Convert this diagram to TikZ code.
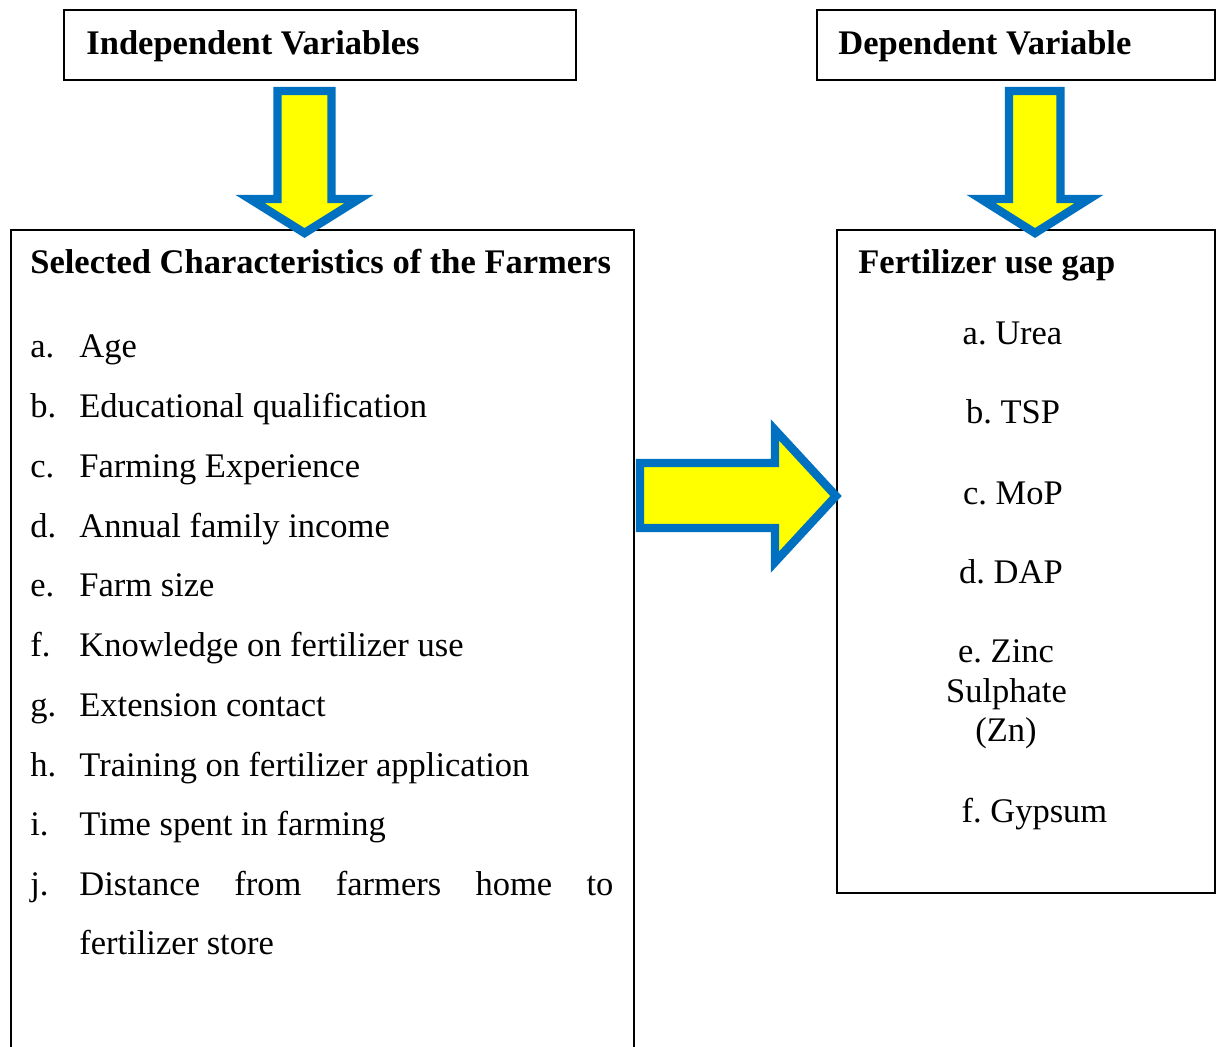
\documentclass[tikz,border=0pt]{standalone}
\usepackage{fontspec}
\setmainfont{Liberation Serif}
\definecolor{arrblue}{HTML}{0070C0}
\definecolor{arryellow}{HTML}{FFFF00}
\begin{document}
\frenchspacing
\begin{tikzpicture}[x=0.5pt,y=-0.5pt,
  every node/.style={font=\fontsize{17.25}{20}\selectfont},
  boxnode/.style={draw=black,line width=1pt,inner sep=0pt},
  txt/.style={inner sep=0pt,anchor=base west},
  ctxt/.style={inner sep=0pt,anchor=base},
  blockarrow/.style={draw=arrblue,fill=arryellow,line width=4.2pt,miter limit=10}]
\useasboundingbox (0,0) rectangle (1217,1047);
\clip (0,0) rectangle (1217,1047);
\fill[white] (0,0) rectangle (1217,1047);
% boxes
\node[boxnode,minimum width=256pt,minimum height=35pt] (indep) at (320,45) {};
\node[boxnode,minimum width=199pt,minimum height=35pt] (dep) at (1016,45) {};
\node[boxnode,minimum width=311.5pt,minimum height=415pt] (chars) at (322.5,645) {};
\node[boxnode,minimum width=189pt,minimum height=331.5pt] (gap) at (1026,561.5) {};
% headings
\node[txt,font=\fontsize{17.25}{20}\selectfont\bfseries] (tindep) at (86,55) {Independent Variables};
\node[txt,font=\fontsize{17.25}{20}\selectfont\bfseries] (tdep) at (838,55) {Dependent Variable};
\node[txt,font=\fontsize{17.25}{20}\selectfont\bfseries] (tchars) at (30,274) {Selected Characteristics of the Farmers};
\node[txt,font=\fontsize{17.25}{20}\selectfont\bfseries] (tgap) at (858,274) {Fertilizer use gap};
% arrows
\draw[blockarrow] (277.5,91) -- (331.5,91) -- (331.5,199) -- (359,199) -- (304.5,233) -- (250,199) -- (277.5,199) -- cycle;
\draw[blockarrow] (1009,91) -- (1060.5,91) -- (1060.5,199) -- (1089,199) -- (1035,233) -- (981,199) -- (1009,199) -- cycle;
\draw[blockarrow] (640,463) -- (775,463) -- (775,430) -- (836,496) -- (775,562) -- (775,528) -- (640,528) -- cycle;
% left list
\node[txt] (la) at (30,358) {a.};
\node[txt] (ia) at (79,358) {Age};
\node[txt] (lb) at (30,418) {b.};
\node[txt] (ib) at (79,418) {Educational qualification};
\node[txt] (lc) at (30,478) {c.};
\node[txt] (ic) at (79,478) {Farming Experience};
\node[txt] (ld) at (30,538) {d.};
\node[txt] (id) at (79,538) {Annual family income};
\node[txt] (le) at (30,597) {e.};
\node[txt] (ie) at (79,597) {Farm size};
\node[txt] (lf) at (30,657) {f.};
\node[txt] (if) at (79,657) {Knowledge on fertilizer use};
\node[txt] (lg) at (30,717) {g.};
\node[txt] (ig) at (79,717) {Extension contact};
\node[txt] (lh) at (30,777) {h.};
\node[txt] (ih) at (79,777) {Training on fertilizer application};
\node[txt] (li) at (30,836) {i.};
\node[txt] (ii) at (79,836) {Time spent in farming};
\node[txt] (lj) at (30,896) {j.};
\node[txt] (ij) at (79,896) {\makebox[267pt][s]{Distance from farmers home to}};
\node[txt] (ij2) at (79,955) {fertilizer store};
% right list
\node[ctxt] (ga) at (1012.5,345) {a. Urea};
\node[ctxt] (gb) at (1013,424) {b. TSP};
\node[ctxt] (gc) at (1013,505) {c. MoP};
\node[ctxt] (gd) at (1011,584) {d. DAP};
\node[ctxt] (ge) at (1006,663) {e. Zinc};
\node[ctxt] (ge2) at (1006.5,703) {Sulphate};
\node[ctxt] (ge3) at (1006,742) {(Zn)};
\node[ctxt] (gf) at (1034.5,823) {f. Gypsum};
\end{tikzpicture}
\end{document}
